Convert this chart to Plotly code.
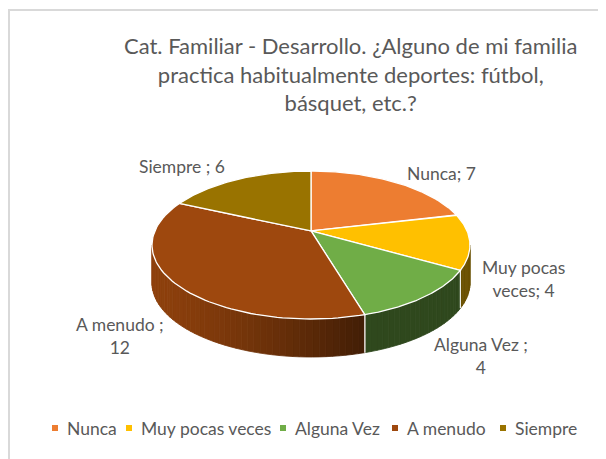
import numpy as np
import plotly.graph_objects as go

# ---------------- data ----------------
categories = ["Nunca", "Muy pocas veces", "Alguna Vez", "A menudo", "Siempre"]
values = [7, 4, 4, 12, 6]
data_labels = ["Nunca; 7", "Muy pocas<br>veces; 4", "Alguna Vez ;<br>4", "A menudo ;<br>12", "Siempre ; 6"]
colors = ["#ED7D31", "#FFC000", "#70AD47", "#9E480E", "#997300"]
title_text = ("Cat. Familiar - Desarrollo. ¿Alguno de mi familia<br>"
              "practica habitualmente deportes: fútbol,<br>básquet, etc.?")

# ---------------- layout constants (page pixels) ----------------
W, H = 606, 459
OFF = 8                                  # browser body margin
CX, CY, RX, RY = 311, 245, 159, 74      # projected top-face ellipse
K = -0.19                               # perspective shift of the centre
DEPTH = 38                              # thickness of the 3D pie
label_pos = [(441, 173), (523, 279), (481, 356), (120, 336), (182, 166)]
legend_x = [55, 129, 283, 395, 503]
legend_y = 428
FONT = "Lato"
GREY = "#595959"


def proj(phi_deg):
    phi = np.radians(np.asarray(phi_deg, dtype=float))
    u = np.sin(phi)
    v = -np.cos(phi)
    d = 1 + K * v
    xp = u * np.sqrt(1 - K * K) / d
    vp = (v + K) / d
    return CX + RX * xp, CY + RY * vp


def shade(hexcol, f):
    r, g, b = int(hexcol[1:3], 16), int(hexcol[3:5], 16), int(hexcol[5:7], 16)
    return "rgb(%d,%d,%d)" % (r * f, g * f, b * f)


def side_factor(x):
    t = np.clip((x - 152) / (365 - 152), 0, 1)
    return float(np.clip(0.9 - 0.48 * t ** 1.3, 0.42, 0.9))


total = float(sum(values))
bounds = np.concatenate([[0], np.cumsum(values)]) / total * 360.0
vis0 = np.degrees(np.arccos(K))          # side visible between these angles
vis1 = 360 - vis0

fig = go.Figure()

# ---------------- side walls ----------------
for i, col in enumerate(colors):
    a0, a1 = max(bounds[i], vis0), min(bounds[i + 1], vis1)
    if a1 <= a0:
        continue
    n = max(1, int(np.ceil((a1 - a0) / 2.0)))
    edges = np.linspace(a0, a1, n + 1)
    for j in range(n):
        ph = np.linspace(edges[j], edges[j + 1], 6)
        xs, ys = proj(ph)
        px = np.concatenate([xs, xs[::-1], xs[:1]])
        py = np.concatenate([ys, ys[::-1] + DEPTH, ys[:1]])
        c = shade(col, side_factor(xs.mean()))
        fig.add_trace(go.Scatter(x=px, y=py, mode="lines", fill="toself",
                                 fillcolor=c, line=dict(color=c, width=0.8),
                                 hoverinfo="skip", showlegend=False))
    for b in (bounds[i], bounds[i + 1]):
        if vis0 < b < vis1:
            bx, by = proj(b)
            fig.add_trace(go.Scatter(x=[bx, bx], y=[by, by + DEPTH], mode="lines",
                                     line=dict(color="rgba(255,255,255,0.9)", width=1.2),
                                     hoverinfo="skip", showlegend=False))

# ---------------- top faces ----------------
vx, vy = CX, CY + RY * K
for i, col in enumerate(colors):
    ph = np.linspace(bounds[i], bounds[i + 1], 80)
    xs, ys = proj(ph)
    px = np.concatenate([[vx], xs, [vx]])
    py = np.concatenate([[vy], ys, [vy]])
    fig.add_trace(go.Scatter(x=px, y=py, mode="lines", fill="toself",
                             fillcolor=col, line=dict(color="white", width=1.3),
                             name=categories[i], hoverinfo="name", showlegend=False))

# ---------------- data labels ----------------
for txt, (lx, ly) in zip(data_labels, label_pos):
    fig.add_annotation(x=lx, y=ly, text=txt, showarrow=False, xanchor="center",
                       yanchor="middle", align="center",
                       font=dict(family=FONT, size=17.5, color=GREY))

# ---------------- legend ----------------
fig.add_trace(go.Scatter(x=legend_x, y=[legend_y] * len(legend_x), mode="markers",
                         marker=dict(symbol="square", size=6, color=colors),
                         hoverinfo="skip", showlegend=False))
for cat, lx in zip(categories, legend_x):
    fig.add_annotation(x=lx + 10, y=legend_y, text=cat, showarrow=False,
                       xanchor="left", yanchor="middle",
                       font=dict(family=FONT, size=17.5, color=GREY))

# ---------------- title ----------------
fig.add_annotation(x=351, y=74, text=title_text, showarrow=False,
                   xanchor="center", yanchor="middle", align="center",
                   font=dict(family=FONT, size=22, color=GREY))

# ---------------- frame ----------------
fig.add_shape(type="rect", x0=9, y0=10, x1=W + 20, y1=H + 20,
              line=dict(color="#d9d9d9", width=2), layer="below")

fig.update_layout(
    width=W - OFF, height=H - OFF,
    margin=dict(l=0, r=0, t=0, b=0),
    paper_bgcolor="white", plot_bgcolor="white",
    xaxis=dict(range=[OFF, W], visible=False, fixedrange=True),
    yaxis=dict(range=[H, OFF], visible=False, fixedrange=True),
    showlegend=False,
)

fig.write_html("out.html")
